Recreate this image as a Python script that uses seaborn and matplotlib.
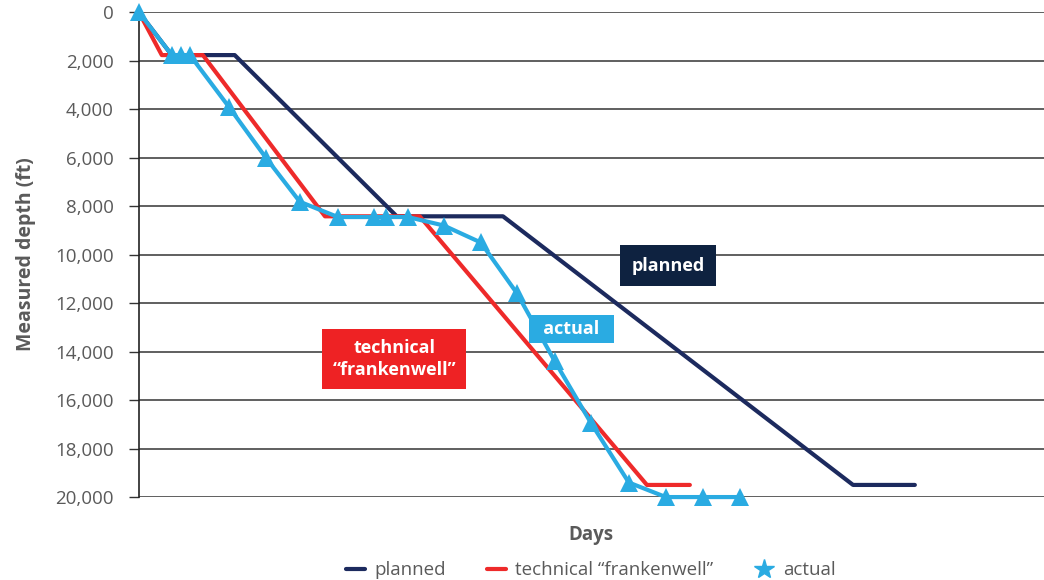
import matplotlib
matplotlib.use("Agg")
import matplotlib.pyplot as plt
import seaborn as sns
import pandas as pd
from matplotlib.lines import Line2D

# Drilling progress: measured depth (ft) against elapsed days
planned_days = [0, 0.89, 2.59, 6.97, 9.84, 19.30, 20.97]
planned_depth = [0, 1770, 1770, 8420, 8420, 19500, 19500]

tech_days = [0, 0.62, 1.73, 5.03, 7.59, 13.73, 14.89]
tech_depth = [0, 1770, 1770, 8420, 8420, 19500, 19500]

actual_days = [0, 0.89, 1.14, 1.38, 2.43, 3.43, 4.35, 5.38, 6.35, 6.68,
               7.27, 8.24, 9.24, 10.22, 11.24, 12.22, 13.24, 14.24, 15.24, 16.24]
actual_depth = [0, 1770, 1770, 1770, 3900, 6000, 7820, 8450, 8450, 8450,
                8450, 8800, 9500, 11600, 14400, 16950, 19400, 20000, 20000, 20000]

y_ticks = [0, 2000, 4000, 6000, 8000, 10000, 12000, 14000, 16000, 18000, 20000]
series_names = ["planned", "technical \u201cfrankenwell\u201d", "actual"]

NAVY = "#1c2a5e"
RED = "#ee2a2a"
BLUE = "#2aabe2"
GREY = "#5a5a5a"

sns.set_theme(style="white")
plt.rcParams["font.family"] = ["Open Sans", "DejaVu Sans"]

df_plan = pd.DataFrame({"day": planned_days, "depth": planned_depth})
df_tech = pd.DataFrame({"day": tech_days, "depth": tech_depth})
df_act = pd.DataFrame({"day": actual_days, "depth": actual_depth})

fig = plt.figure(figsize=(10.44, 5.80), dpi=100)
ax = fig.add_axes([0.133, 0.143, 0.867, 0.836])

sns.lineplot(data=df_plan, x="day", y="depth", ax=ax, color=NAVY, lw=3,
             sort=False, estimator=None, zorder=3, clip_on=False)
sns.lineplot(data=df_tech, x="day", y="depth", ax=ax, color=RED, lw=3,
             sort=False, estimator=None, zorder=4, clip_on=False)
sns.lineplot(data=df_act, x="day", y="depth", ax=ax, color=BLUE, lw=3,
             sort=False, estimator=None, marker="^", markersize=13,
             markeredgewidth=0, zorder=5, clip_on=False)

ax.set_xlim(0, 24.46)
ax.set_ylim(20000, 0)
ax.set_yticks(y_ticks)
ax.set_yticklabels([f"{v:,}" for v in y_ticks], color=GREY, fontsize=13.5)
ax.set_xticks([])
ax.tick_params(axis="y", length=7, width=1, color="#333333", pad=11, left=True)

for v in y_ticks:
    ax.axhline(v, color="#444444", lw=1.2, zorder=1)

for s in ["top", "right", "bottom"]:
    ax.spines[s].set_visible(False)
ax.spines["left"].set_color("#222222")
ax.spines["left"].set_linewidth(1.2)

ax.set_xlabel("Days", fontsize=13.5, fontweight="bold", color=GREY, labelpad=20)
ax.set_ylabel("Measured depth (ft)", fontsize=14, fontweight="bold", color=GREY,
              labelpad=14)

# Series call-out labels
box_kw = dict(ha="center", va="center", color="white", fontsize=13,
              fontweight="bold", zorder=6)
ax.text(14.3, 10450, "planned",
        bbox=dict(boxstyle="square,pad=0.62", fc="#0e2240", ec="none"), **box_kw)
ax.text(11.69, 13070, "  actual  ",
        bbox=dict(boxstyle="square,pad=0.3", fc=BLUE, ec="none"), **box_kw)
ax.text(6.9, 14300, "technical\n\u201cfrankenwell\u201d", linespacing=1.3,
        bbox=dict(boxstyle="square,pad=0.55", fc="#ee2224", ec="none"), **box_kw)

handles = [
    Line2D([], [], color=NAVY, lw=3),
    Line2D([], [], color=RED, lw=3),
    Line2D([], [], color=BLUE, lw=0, marker="*", markersize=15),
]
fig.legend(handles, series_names, loc="center", bbox_to_anchor=(0.566, 0.017),
           ncol=3, frameon=False, fontsize=13.5, labelcolor=GREY,
           handlelength=1.0, handletextpad=0.5, columnspacing=2.2)

fig.savefig("out.png", dpi=100)
